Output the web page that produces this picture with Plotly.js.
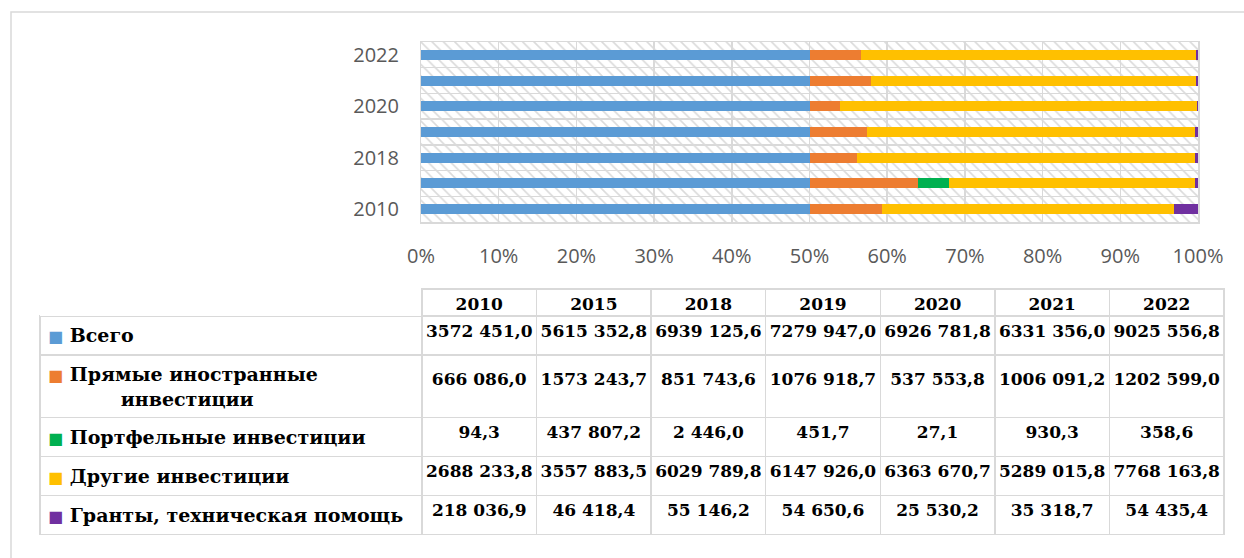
<!DOCTYPE html>
<html>
<head>
<meta charset="utf-8">
<script src="https://cdn.plot.ly/plotly-3.0.1.min.js"></script>
<style>
html,body{margin:0;padding:0;background:#fff;}
#chart{width:1244px;height:558px;}
</style>
</head>
<body>
<div id="chart"></div>
<script>
// ---- data ----
const years = ['2010', '2015', '2018', '2019', '2020', '2021', '2022'];
const labeledYears = ['2010', '2018', '2020', '2022'];
const seriesNames = ['Всего', 'Прямые иностранные инвестиции', 'Портфельные инвестиции', 'Другие инвестиции', 'Гранты, техническая помощь'];
const total     = [3572451.0, 5615352.8, 6939125.6, 7279947.0, 6926781.8, 6331356.0, 9025556.8];
const fdi       = [666086.0, 1573243.7, 851743.6, 1076918.7, 537553.8, 1006091.2, 1202599.0];
const portfolio = [94.3, 437807.2, 2446.0, 451.7, 27.1, 930.3, 358.6];
const other     = [2688233.8, 3557883.5, 6029789.8, 6147926.0, 6363670.7, 5289015.8, 7768163.8];
const grants    = [218036.9, 46418.4, 55146.2, 54650.6, 25530.2, 35318.7, 54435.4];
const colors = ['#5b9bd5', '#ed7d31', '#00b050', '#ffc000', '#7030a0'];

const seriesValues = [total, fdi, portfolio, other, grants];

// ---- helpers ----
const NB = '\u00A0';
function fmt(v) {
  const s = v.toFixed(1);
  let [ip, dp] = s.split('.');
  if (ip.length > 3) ip = ip.slice(0, -3) + NB + ip.slice(-3);
  return ip + ',' + dp;
}
function nb(s) { return s.replace(/ /g, NB); }
function swatch(c) { return `<a href=""style="color:${c};font-size:16px">■</a>`; }

const W = 1244, H = 558;
const px = v => v / W;
const py = v => 1 - v / H;

const traces = [];

// hatched background of plot area (on base axes, below data)
traces.push({
  type: 'bar', orientation: 'h',
  x: [1], y: [years.length / 2], width: [years.length],
  xaxis: 'x', yaxis: 'y',
  marker: { color: '#dadada', line: { width: 0 },
    pattern: { shape: '\\', size: 8, solidity: 0.2, fillmode: 'replace' } },
  hoverinfo: 'skip', showlegend: false
});

// data bars
seriesNames.forEach((name, i) => {
  traces.push({
    type: 'bar', orientation: 'h',
    name: name,
    x: seriesValues[i], y: years,
    xaxis: 'x2', yaxis: 'y2',
    marker: { color: colors[i], line: { width: 0 } },
    hoverinfo: 'skip', showlegend: false
  });
});

// data table
const headerVals = [''].concat(years);
const firstCol = seriesNames.map((l, i) => {
  let label = nb(l);
  if (i === 1) label = nb('Прямые иностранные') + '<br>' + NB.repeat(11) + nb('инвестиции');
  return swatch(colors[i]) + NB + label;
});
// the two-line row: place numbers on its second line
const cellCols = [firstCol].concat(years.map((y, j) =>
  seriesValues.map((s, i) => (i === 1 ? '<br>' : '') + fmt(s[j]))));
const tableFont = 'DejaVu Serif';
traces.push({
  type: 'table',
  domain: { x: [px(40), px(1224)], y: [4 / H, 269 / H] },
  columnwidth: [382].concat(years.map(() => 114.6)),
  header: {
    values: headerVals,
    height: 27,
    align: 'center',
    fill: { color: '#ffffff' },
    line: { color: ['rgba(0,0,0,0)'].concat(years.map(() => '#d9d9d9')), width: 1.5 },
    font: { family: tableFont, size: 17, color: '#000', weight: 'bold' }
  },
  cells: {
    values: cellCols,
    height: 39,
    align: ['left'].concat(years.map(() => 'center')),
    fill: { color: '#ffffff' },
    line: { color: '#d9d9d9', width: 1.5 },
    font: { family: tableFont, size: [19].concat(years.map(() => 17)), color: '#000', weight: 'bold' }
  }
});

const layout = {
  width: W, height: H, autosize: false,
  margin: { l: 0, r: 0, t: 0, b: 0 },
  paper_bgcolor: '#ffffff', plot_bgcolor: 'rgba(0,0,0,0)',
  barmode: 'stack', barnorm: 'percent', bargap: 0.61,
  showlegend: false,
  xaxis: {
    domain: [px(421), px(1198)], anchor: 'y',
    range: [0, 100], dtick: 10, tick0: 0,
    showgrid: true, gridcolor: '#d9d9d9', gridwidth: 1.5,
    showline: true, mirror: true, linecolor: '#d9d9d9', linewidth: 1.5,
    showticklabels: false, ticks: '', zeroline: false, fixedrange: true
  },
  yaxis: {
    domain: [py(222), py(42)], anchor: 'x',
    range: [0, years.length], dtick: 1, tick0: 0,
    showgrid: true, gridcolor: '#d9d9d9', gridwidth: 1.5,
    showline: true, mirror: true, linecolor: '#d9d9d9', linewidth: 1.5,
    showticklabels: false, ticks: '', zeroline: false, fixedrange: true
  },
  xaxis2: {
    overlaying: 'x', anchor: 'y2', side: 'bottom',
    range: [0, 100], dtick: 10, tick0: 0, ticksuffix: '%',
    showgrid: false, zeroline: false, showline: false, ticks: '',
    ticklabelstandoff: 20,
    tickfont: { family: 'Open Sans', size: 20, color: '#595959' },
    fixedrange: true
  },
  yaxis2: {
    overlaying: 'y', anchor: 'x2', side: 'left',
    type: 'category', categoryorder: 'array', categoryarray: years,
    tickmode: 'array', tickvals: labeledYears, ticktext: labeledYears,
    showgrid: false, zeroline: false, showline: false, ticks: '',
    ticklabelstandoff: 21,
    tickfont: { family: 'Open Sans', size: 20, color: '#595959' },
    fixedrange: true
  },
  shapes: [{
    type: 'rect', xref: 'paper', yref: 'paper',
    x0: px(11), x1: 1.02, y0: -0.05, y1: py(12),
    line: { color: '#d9d9d9', width: 1.5 }, fillcolor: 'rgba(0,0,0,0)', layer: 'below'
  }]
};

Plotly.newPlot('chart', traces, layout, { staticPlot: true, displayModeBar: false });
</script>
</body>
</html>
